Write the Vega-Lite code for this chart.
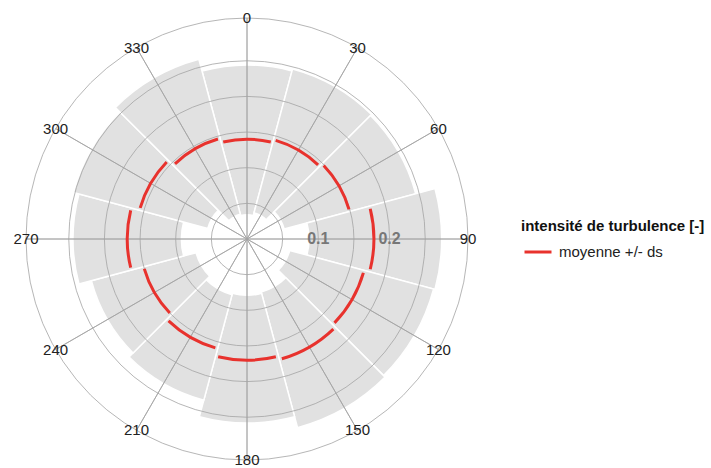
{
  "$schema": "https://vega.github.io/schema/vega-lite/v6.json",
  "width": 494,
  "height": 458,
  "autosize": {"type": "none"},
  "padding": {"left": 0, "top": 10, "right": 217, "bottom": 0},
  "background": "white",
  "config": {
    "view": {"stroke": null},
    "font": "Liberation Sans"
  },
  "datasets": {
    "secteurs": [
      {"dir": 0, "debut": -15, "fin": 15, "bas": 0.034, "moyenne": 0.140, "haut": 0.244},
      {"dir": 30, "debut": 15, "fin": 45, "bas": 0.038, "moyenne": 0.144, "haut": 0.247},
      {"dir": 60, "debut": 45, "fin": 75, "bas": 0.054, "moyenne": 0.149, "haut": 0.245},
      {"dir": 90, "debut": 75, "fin": 105, "bas": 0.087, "moyenne": 0.178, "haut": 0.273},
      {"dir": 120, "debut": 105, "fin": 135, "bas": 0.062, "moyenne": 0.170, "haut": 0.271},
      {"dir": 150, "debut": 135, "fin": 165, "bas": 0.077, "moyenne": 0.175, "haut": 0.274},
      {"dir": 180, "debut": 165, "fin": 195, "bas": 0.079, "moyenne": 0.170, "haut": 0.258},
      {"dir": 210, "debut": 195, "fin": 225, "bas": 0.081, "moyenne": 0.159, "haut": 0.234},
      {"dir": 240, "debut": 225, "fin": 255, "bas": 0.074, "moyenne": 0.150, "haut": 0.226},
      {"dir": 270, "debut": 255, "fin": 285, "bas": 0.092, "moyenne": 0.168, "haut": 0.244},
      {"dir": 300, "debut": 285, "fin": 315, "bas": 0.057, "moyenne": 0.156, "haut": 0.252},
      {"dir": 330, "debut": 315, "fin": 345, "bas": 0.036, "moyenne": 0.146, "haut": 0.261}
    ],
    "cercles": [
      {"r": 0.05}, {"r": 0.1}, {"r": 0.15}, {"r": 0.2}, {"r": 0.25}, {"r": 0.31}
    ],
    "directions": [
      {"dir": 0, "label": "0"}, {"dir": 30, "label": "30"}, {"dir": 60, "label": "60"},
      {"dir": 90, "label": "90"}, {"dir": 120, "label": "120"}, {"dir": 150, "label": "150"},
      {"dir": 180, "label": "180"}, {"dir": 210, "label": "210"}, {"dir": 240, "label": "240"},
      {"dir": 270, "label": "270"}, {"dir": 300, "label": "300"}, {"dir": 330, "label": "330"}
    ],
    "graduations": [
      {"r": 0.1, "label": "0.1"}, {"r": 0.2, "label": "0.2"}
    ]
  },
  "layer": [
    {
      "data": {"name": "secteurs"},
      "mark": {"type": "arc", "fill": "#e1e1e1", "stroke": "white", "strokeWidth": 1.5},
      "encoding": {
        "theta": {"field": "debut", "type": "quantitative", "stack": null,
                  "scale": {"type": "linear", "domain": [0, 360], "range": [0, 6.283185307179586]}},
        "theta2": {"field": "fin"},
        "radius": {"field": "haut", "type": "quantitative", "stack": null,
                   "scale": {"type": "linear", "domain": [0, 0.31], "range": [0, 221], "zero": true, "nice": false}},
        "radius2": {"field": "bas"}
      }
    },
    {
      "data": {"name": "cercles"},
      "mark": {"type": "arc", "theta": 0, "theta2": 6.283185307179586, "filled": false, "stroke": "#a3a3a3", "strokeWidth": 0.8},
      "encoding": {
        "radius": {"field": "r", "type": "quantitative", "stack": null}
      }
    },
    {
      "data": {"name": "directions"},
      "mark": {"type": "arc", "filled": false, "stroke": "#a3a3a3", "strokeWidth": 0.8},
      "encoding": {
        "theta": {"field": "dir", "type": "quantitative", "stack": null},
        "theta2": {"field": "dir"},
        "radius": {"datum": 0.31, "type": "quantitative"}
      }
    },
    {
      "data": {"name": "secteurs"},
      "mark": {"type": "arc", "filled": false, "strokeWidth": 3, "padAngle": 0.03, "strokeCap": "butt"},
      "encoding": {
        "theta": {"field": "debut", "type": "quantitative", "stack": null},
        "theta2": {"field": "fin"},
        "radius": {"field": "moyenne", "type": "quantitative", "stack": null},
        "radius2": {"field": "moyenne"},
        "stroke": {
          "datum": "moyenne +/- ds",
          "type": "nominal",
          "scale": {"range": ["#e8322d"]},
          "legend": {
            "title": "intensité de turbulence [-]",
            "orient": "none",
            "legendX": 521,
            "legendY": 209,
            "symbolType": "stroke",
            "symbolSize": 729,
            "symbolStrokeWidth": 3,
            "symbolOffset": 2,
            "titleFontSize": 15,
            "titleFontWeight": "bold",
            "titleColor": "#111111",
            "titleLimit": 400,
            "titlePadding": 3,
            "labelFontSize": 15,
            "labelColor": "#222222",
            "labelOffset": 6
          }
        }
      }
    },
    {
      "data": {"name": "directions"},
      "mark": {"type": "text", "fontSize": 15, "color": "#222222", "align": "center", "baseline": "middle"},
      "encoding": {
        "theta": {"field": "dir", "type": "quantitative", "stack": null},
        "radius": {"datum": 0.31, "type": "quantitative"},
        "text": {"field": "label"}
      }
    },
    {
      "data": {"name": "graduations"},
      "mark": {"type": "text", "theta": 1.5707963267948966, "fontSize": 16, "fontWeight": "bold", "color": "#777777", "align": "center", "baseline": "middle"},
      "encoding": {
        "radius": {"field": "r", "type": "quantitative", "stack": null},
        "text": {"field": "label"}
      }
    }
  ]
}
